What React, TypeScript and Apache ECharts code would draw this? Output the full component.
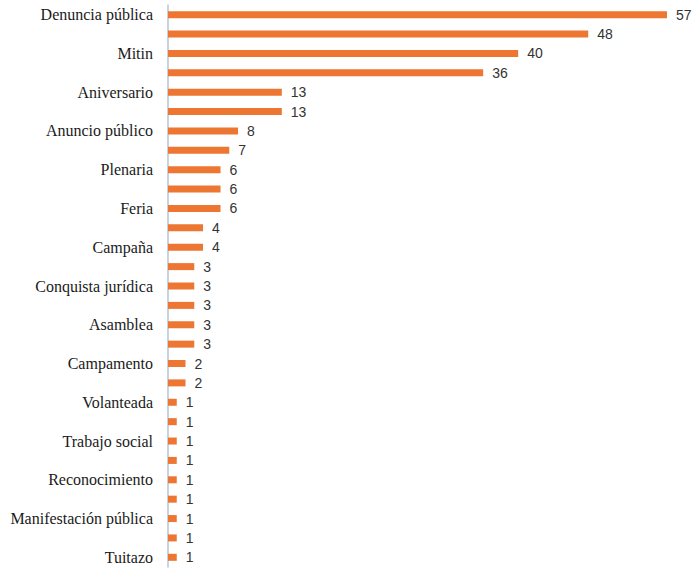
import React, { useEffect, useRef } from "react";
import * as echarts from "echarts";

const labels: string[] = [
  "Denuncia pública", "", "Mitin", "", "Aniversario", "", "Anuncio público", "",
  "Plenaria", "", "Feria", "", "Campaña", "", "Conquista jurídica", "",
  "Asamblea", "", "Campamento", "", "Volanteada", "", "Trabajo social", "",
  "Reconocimiento", "", "Manifestación pública", "", "Tuitazo",
];

const values: number[] = [
  57, 48, 40, 36, 13, 13, 8, 7, 6, 6, 6, 4, 4, 3, 3, 3, 3, 3, 2, 2,
  1, 1, 1, 1, 1, 1, 1, 1, 1,
];

const xMax = 57;

export default function App() {
  const ref = useRef<HTMLDivElement>(null);
  useEffect(() => {
    if (!ref.current) return;
    const chart = echarts.init(ref.current, null, { renderer: "svg" });
    chart.setOption({
      animation: false,
      backgroundColor: "#ffffff",
      grid: { left: 168, right: 33, top: 5, bottom: 3, containLabel: false },
      xAxis: {
        type: "value",
        min: 0,
        max: xMax,
        show: false,
        splitLine: { show: false },
      },
      yAxis: {
        type: "category",
        inverse: true,
        data: labels,
        axisLine: { show: true, lineStyle: { color: "#b4c7d9", width: 1.5 } },
        axisTick: { show: false },
        axisLabel: {
          interval: 0,
          margin: 15,
          color: "#1a1a1a",
          fontFamily: "Liberation Serif",
          fontSize: 16,
        },
      },
      series: [
        {
          type: "bar",
          data: values,
          barWidth: 7,
          itemStyle: { color: "#ec7632" },
          label: {
            show: true,
            position: "right",
            distance: 9,
            color: "#333333",
            fontFamily: "Liberation Sans",
            fontSize: 14,
          },
        },
      ],
    });
    return () => chart.dispose();
  }, []);
  return (
    <div
      ref={ref}
      style={{ position: "fixed", left: 0, top: 0, width: 700, height: 570 }}
    />
  );
}
